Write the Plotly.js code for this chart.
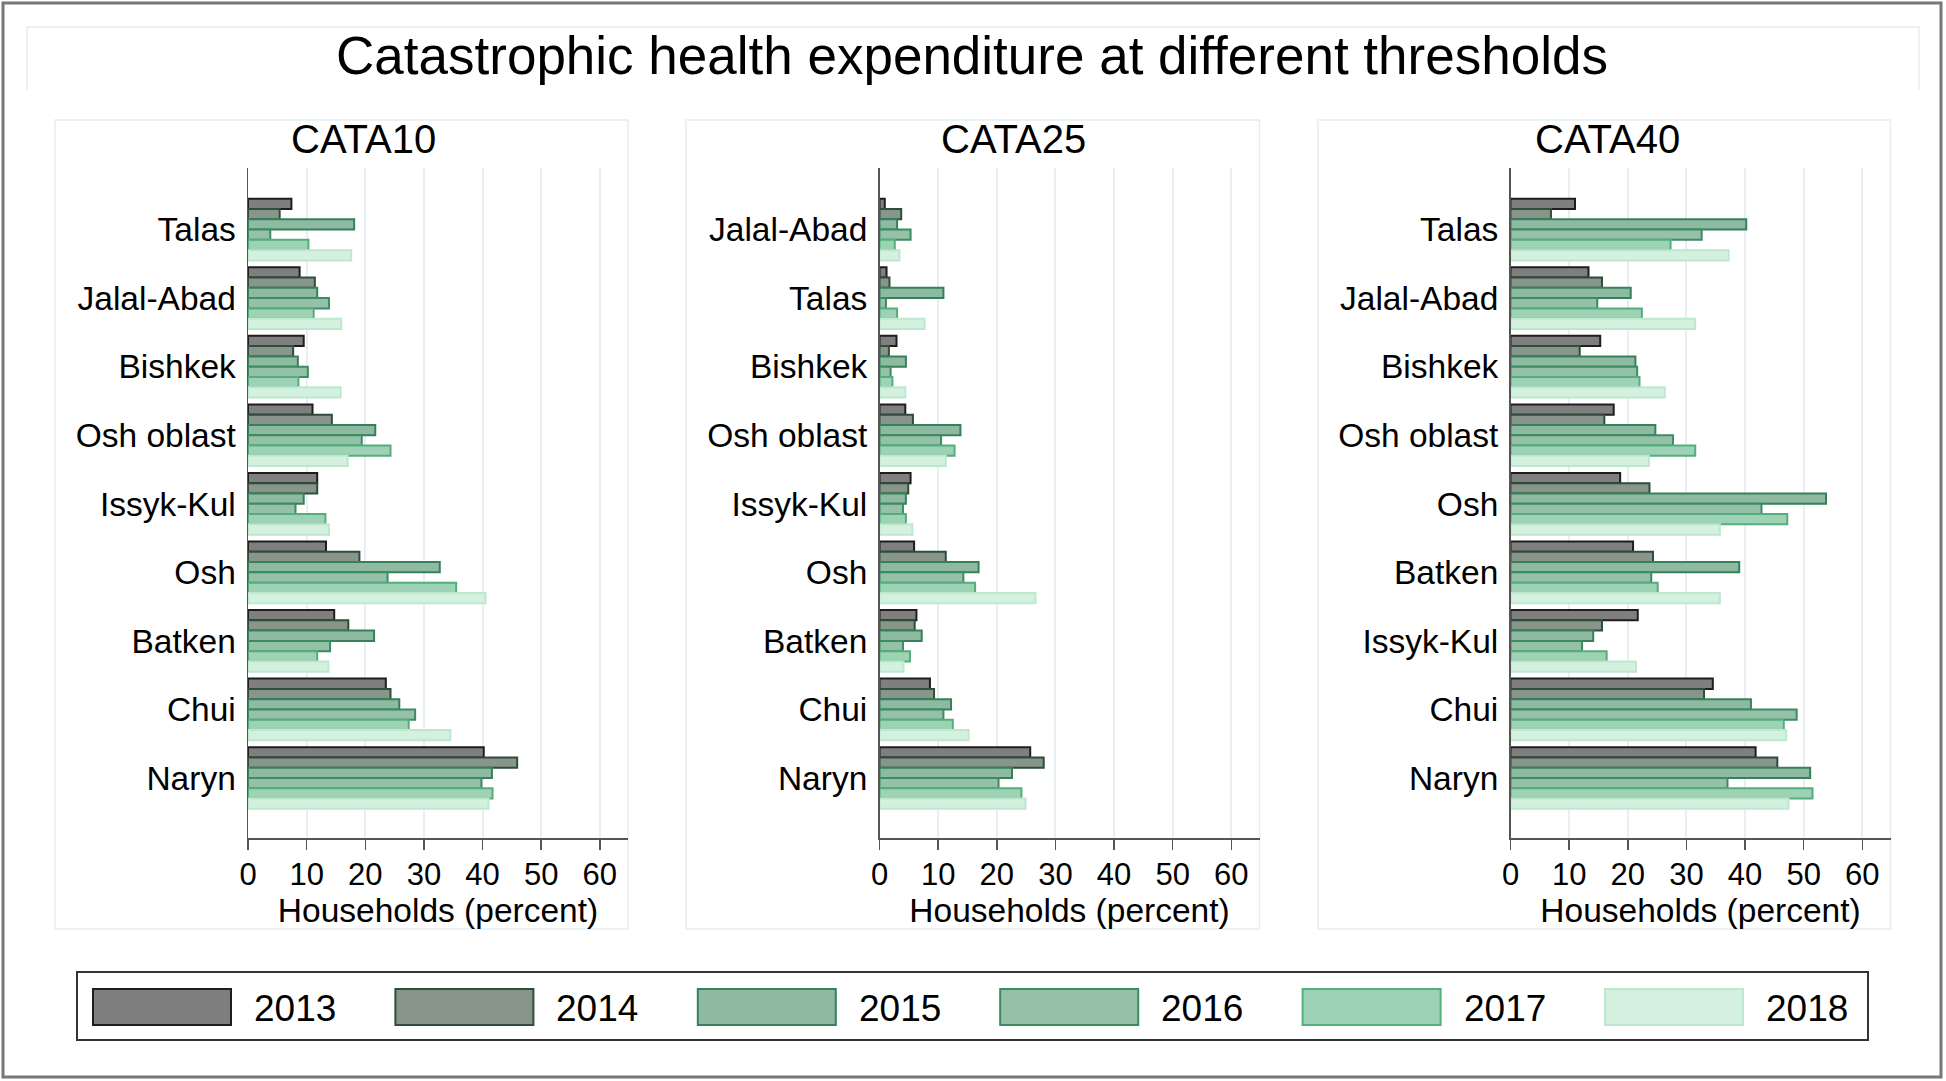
<!DOCTYPE html>
<html><head><meta charset="utf-8">
<script src="https://cdn.plot.ly/plotly-3.0.1.min.js"></script>
<style>html,body{margin:0;padding:0;background:#fff;overflow:hidden}#chart{width:1946px;height:1081px}</style>
</head><body><div id="chart"></div><script>
// ---- data ----
const years = ["2013", "2014", "2015", "2016", "2017", "2018"];
const panelTitles = ["CATA10", "CATA25", "CATA40"];
const xTicks = [0, 10, 20, 30, 40, 50, 60];
const xTitle = "Households (percent)";
const mainTitle = "Catastrophic health expenditure at different thresholds";

const regions10 = ["Talas", "Jalal-Abad", "Bishkek", "Osh oblast", "Issyk-Kul", "Osh", "Batken", "Chui", "Naryn"];
const cata10_2013 = [7.4, 8.8, 9.5, 11.0, 11.8, 13.3, 14.7, 23.5, 40.2];
const cata10_2014 = [5.4, 11.4, 7.7, 14.3, 11.8, 19.0, 17.1, 24.3, 45.9];
const cata10_2015 = [18.1, 11.8, 8.5, 21.7, 9.5, 32.7, 21.5, 25.8, 41.6];
const cata10_2016 = [3.8, 13.8, 10.2, 19.4, 8.1, 23.8, 14.0, 28.5, 39.8];
const cata10_2017 = [10.3, 11.2, 8.6, 24.3, 13.2, 35.5, 11.8, 27.4, 41.7];
const cata10_2018 = [17.6, 15.9, 15.8, 17.0, 13.8, 40.5, 13.7, 34.5, 41.0];

const regions25 = ["Jalal-Abad", "Talas", "Bishkek", "Osh oblast", "Issyk-Kul", "Osh", "Batken", "Chui", "Naryn"];
const cata25_2013 = [0.9, 1.2, 2.9, 4.4, 5.3, 5.9, 6.3, 8.6, 25.7];
const cata25_2014 = [3.7, 1.7, 1.6, 5.7, 4.9, 11.3, 6.0, 9.3, 28.0];
const cata25_2015 = [3.0, 10.9, 4.5, 13.8, 4.5, 16.9, 7.2, 12.2, 22.6];
const cata25_2016 = [5.3, 1.1, 1.9, 10.5, 4.0, 14.3, 4.0, 10.9, 20.3];
const cata25_2017 = [2.6, 3.0, 2.2, 12.8, 4.5, 16.3, 5.2, 12.5, 24.2];
const cata25_2018 = [3.4, 7.7, 4.4, 11.3, 5.6, 26.6, 4.1, 15.2, 24.9];

const regions40 = ["Talas", "Jalal-Abad", "Bishkek", "Osh oblast", "Osh", "Batken", "Issyk-Kul", "Chui", "Naryn"];
const cata40_2013 = [11.0, 13.3, 15.3, 17.6, 18.7, 20.9, 21.7, 34.5, 41.8];
const cata40_2014 = [6.9, 15.6, 11.8, 16.0, 23.7, 24.3, 15.6, 33.0, 45.5];
const cata40_2015 = [40.2, 20.5, 21.3, 24.7, 53.8, 39.0, 14.1, 41.0, 51.1];
const cata40_2016 = [32.6, 14.8, 21.6, 27.7, 42.8, 24.0, 12.2, 48.8, 37.0];
const cata40_2017 = [27.3, 22.4, 22.0, 31.5, 47.2, 25.1, 16.4, 46.6, 51.5];
const cata40_2018 = [37.2, 31.5, 26.3, 23.6, 35.7, 35.7, 21.4, 47.0, 47.4];

// ---- styles ----
const fillColors = ["#7f7f7f", "#87958a", "#8dbaa0", "#95c1a8", "#9ed2b4", "#d4f1e0"];
const lineColors = ["#1e1e1e", "#2f4e3a", "#37805a", "#3d8b61", "#55ad7d", "#bde8ce"];
const FONT = "Liberation Sans, Arial, sans-serif";
const W = 1946, H = 1081;
const px = v => v / W;
const py = v => 1 - v / H;

const panelRegions = [regions10, regions25, regions40];
const panelValues = [
  [cata10_2013, cata10_2014, cata10_2015, cata10_2016, cata10_2017, cata10_2018],
  [cata25_2013, cata25_2014, cata25_2015, cata25_2016, cata25_2017, cata25_2018],
  [cata40_2013, cata40_2014, cata40_2015, cata40_2016, cata40_2017, cata40_2018]
];
const plotX0 = [248, 879.5, 1510.5];
const plotW = 380;
const boxX0 = [55, 686, 1318];
const titleX = [363, 1013, 1607];
const plotTop = 168, plotBottom = 838;

const traces = [];
const layout = {
  width: W, height: H,
  margin: {l: 0, r: 0, t: 0, b: 0},
  paper_bgcolor: "#ffffff", plot_bgcolor: "#ffffff",
  font: {family: FONT, color: "#000"},
  showlegend: false,
  barmode: "group", bargap: 0.1, bargroupgap: 0,
  title: {text: mainTitle, x: px(972), xanchor: "center", y: py(55), yanchor: "middle",
          font: {family: FONT, size: 53, color: "#000"}},
  shapes: [], annotations: []
};

panelRegions.forEach((regs, p) => {
  const sfx = p === 0 ? "" : String(p + 1);
  years.forEach((yr, i) => {
    traces.push({
      type: "bar", orientation: "h", name: yr,
      y: regs, x: panelValues[p][i],
      xaxis: "x" + sfx, yaxis: "y" + sfx,
      marker: {color: fillColors[i], line: {color: lineColors[i], width: 2}},
      hoverinfo: "x+y+name", showlegend: false
    });
  });
  layout["xaxis" + sfx] = {
    domain: [px(plotX0[p]), px(plotX0[p] + plotW)], anchor: "y" + sfx,
    range: [0, 64.8], tickvals: xTicks, ticktext: xTicks.map(String),
    showgrid: true, gridcolor: "#e6f0f3", gridwidth: 2, zeroline: false,
    showline: true, linecolor: "#555", linewidth: 1.5,
    ticks: "outside", ticklen: 10, tickcolor: "#555", tickwidth: 1.5,
    ticklabelstandoff: -2,
    tickfont: {size: 31, color: "#000"},
    title: {text: xTitle, font: {size: 33.5, color: "#000"}, standoff: 0},
    fixedrange: true
  };
  layout["yaxis" + sfx] = {
    domain: [py(plotBottom), py(plotTop)], anchor: "x" + sfx,
    type: "category", categoryorder: "array", categoryarray: regs,
    range: [8.875, -0.898],
    showgrid: false, zeroline: false, showline: true, linecolor: "#555", linewidth: 1.5,
    ticks: "", ticklabelstandoff: 4,
    tickfont: {size: 33.5, color: "#000"}, fixedrange: true
  };
  layout.shapes.push({type: "rect", xref: "paper", yref: "paper",
    x0: px(boxX0[p]), x1: px(plotX0[p] + plotW), y0: py(929), y1: py(120),
    line: {color: "#e4eef1", width: 1.5}, layer: "below"});
  layout.annotations.push({text: panelTitles[p], xref: "paper", yref: "paper",
    x: px(titleX[p]), y: py(139), xanchor: "center", yanchor: "middle",
    showarrow: false, font: {size: 40, color: "#000"}});
});

// outer frame
layout.shapes.push({type: "rect", xref: "paper", yref: "paper",
  x0: px(3), x1: px(1941), y0: py(1077), y1: py(3), line: {color: "#777", width: 3}});
// title box (top, left, right)
layout.shapes.push({type: "path", xref: "paper", yref: "paper",
  path: `M${px(27)},${py(90)} L${px(27)},${py(27)} L${px(1919)},${py(27)} L${px(1919)},${py(90)}`,
  line: {color: "#e4eef1", width: 1.5}});
// legend box
layout.shapes.push({type: "rect", xref: "paper", yref: "paper",
  x0: px(77), x1: px(1868), y0: py(1040), y1: py(972), line: {color: "#333", width: 2}});
years.forEach((yr, i) => {
  const sx = 93 + i * 302.4;
  layout.shapes.push({type: "rect", xref: "paper", yref: "paper",
    x0: px(sx), x1: px(sx + 138), y0: py(1025), y1: py(989),
    fillcolor: fillColors[i], line: {color: lineColors[i], width: 2}});
  layout.annotations.push({text: yr, xref: "paper", yref: "paper",
    x: px(sx + 159), y: py(1008), xanchor: "left", yanchor: "middle",
    showarrow: false, font: {size: 37, color: "#000"}});
});

Plotly.newPlot("chart", traces, layout, {displayModeBar: false, staticPlot: true});
</script></body></html>
